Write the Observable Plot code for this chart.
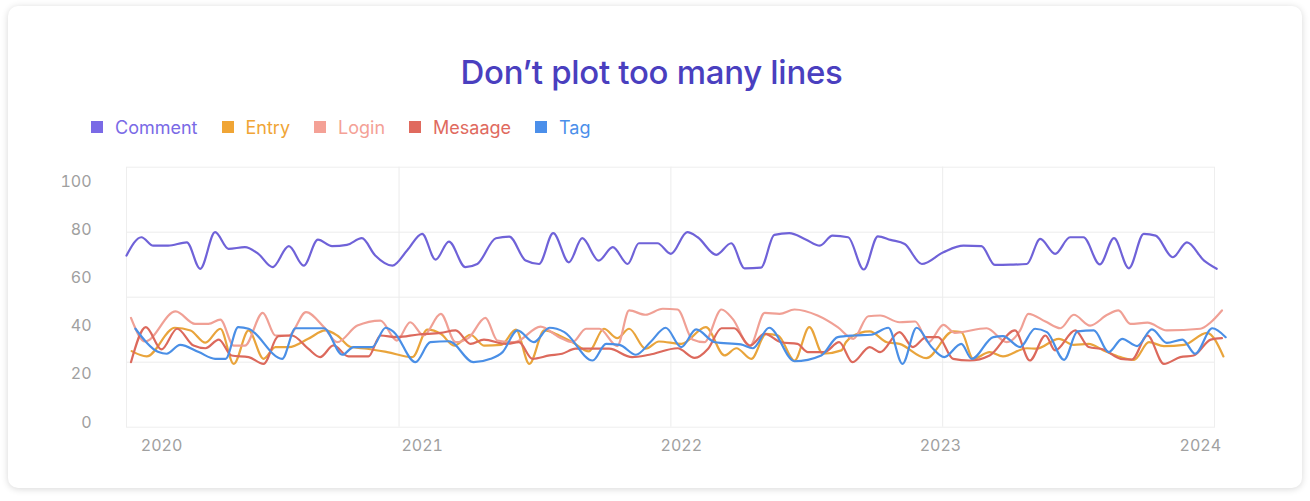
<!DOCTYPE html>
<html>
<head>
<meta charset="utf-8">
<script src="https://cdn.jsdelivr.net/npm/d3@7"></script>
<script src="https://cdn.jsdelivr.net/npm/@observablehq/plot@0.6"></script>
<style>
  html, body { margin: 0; padding: 0; background: #ffffff; }
  body { width: 1310px; height: 501px; position: relative; overflow: hidden; font-family: Inter, "Noto Sans", sans-serif; }
  #card { position: absolute; left: 8px; top: 6px; width: 1294px; height: 482px; background: #fff;
          border-radius: 10px; box-shadow: 0 1px 7px rgba(0,0,0,0.16); }
  #title { position: absolute; left: 0; top: 50px; width: 1303px; text-align: center; font-size: 33px;
           font-weight: 500; color: #4a3fbf; letter-spacing: -0.3px; line-height: 44px; }
  #legend { position: absolute; left: 91px; top: 115px; display: flex; align-items: center; height: 24px; }
  .item { display: flex; align-items: center; margin-right: 24px; font-size: 18px; }
  .sw { width: 12px; height: 12px; margin-right: 12px; }
  #chart { position: absolute; left: 0; top: 150px; }
</style>
</head>
<body>
<div id="card"></div>
<div id="title">Don’t plot too many lines</div>
<div id="legend"></div>
<div id="chart"></div>
<script>
// ---- data (days since 2020-01-01, values) ----
const seriesNames = ["Comment", "Entry", "Login", "Mesaage", "Tag"];
const lineColors = ["#6f62d8", "#e9a43b", "#f0a095", "#dc695c", "#4a8fe6"];
const legendColors = ["#7a6ae6", "#f0a535", "#f4a196", "#e06a5e", "#4b8fea"];

const commentDays = [0,20,36,56,81,99,119,137,159,177,196,218,238,257,276,296,316,334,357,377,397,415,433,455,471,496,514,536,554,573,594,612,634,653,673,688,713,731,753,767,792,812,830,852,870,890,912,931,948,969,990,1009,1026,1045,1068,1097,1124,1148,1166,1187,1209,1227,1247,1267,1285,1307,1326,1346,1366,1382,1405,1424,1447,1464];
const commentValues = [69.3,76.9,73.4,73.4,74.8,63.8,79.0,72.1,72.8,70.0,64.5,73.2,65.1,75.9,73.2,73.7,76.5,69.3,65.1,71.5,78.3,67.6,75.1,64.5,65.8,76.5,77.2,67.2,65.8,78.6,66.5,76.5,67.2,72.8,65.8,74.4,74.4,70.0,79.0,76.9,69.6,74.4,64.0,64.3,77.9,78.6,76.0,73.4,77.6,76.9,63.5,77.3,75.8,74.1,65.8,70.7,73.4,73.2,65.4,65.5,65.8,76.2,70.0,76.9,76.9,65.6,76.5,64.0,78.3,77.6,68.6,74.8,67.2,63.8];

const entryDays = [7,27,65,86,106,126,144,164,184,200,218,244,267,283,301,323,350,384,404,422,440,462,480,503,523,541,561,581,599,621,641,659,675,697,715,745,778,803,819,839,859,875,897,917,935,960,966,985,998,1021,1038,1074,1110,1121,1137,1159,1177,1209,1222,1252,1272,1292,1312,1335,1353,1373,1393,1420,1451,1473];
const entryValues = [29.6,27.4,39.3,38.2,33.1,38.9,24.3,38.2,26.4,31.3,31.3,34.7,38.2,36.1,31.3,30.6,29.2,27.1,38.5,36.8,31.9,36.4,31.9,32.2,38.5,24.3,38.2,36.1,33.3,29.5,38.9,35.0,38.9,30.6,33.6,32.6,39.6,27.8,30.8,26.4,36.8,36.1,25.7,39.6,28.5,29.9,33.3,37.2,37.8,33.3,32.6,26.7,37.8,37.5,26.4,29.2,27.4,30.8,30.6,34.7,32.2,32.6,29.9,27.1,26.0,33.3,31.7,32.2,37.2,27.4];

const loginDays = [6,25,66,92,110,126,144,159,183,200,218,241,265,283,310,341,363,381,399,422,442,459,482,498,521,556,581,599,617,635,659,675,697,720,740,760,776,799,814,837,857,877,897,928,955,976,996,1012,1038,1059,1077,1097,1112,1155,1182,1200,1211,1234,1254,1272,1294,1317,1332,1348,1371,1397,1442,1456,1471];
const loginValues = [43.4,33.6,46.1,40.9,40.9,42.7,31.9,31.9,45.5,36.1,36.1,45.8,39.6,33.3,40.2,42.3,34.0,41.6,36.1,45.1,33.3,35.0,43.4,34.0,33.3,39.8,35.4,33.3,38.9,38.9,31.7,46.5,44.7,47.2,46.9,34.4,33.3,46.9,43.0,31.7,45.5,45.1,46.9,44.4,39.6,34.7,44.1,44.4,41.6,41.9,33.3,40.5,37.2,39.1,33.3,38.2,45.1,41.9,39.1,44.7,40.2,44.7,46.5,40.9,41.4,38.2,38.9,41.6,46.5];

const messageDays = [6,26,47,68,90,106,124,141,164,184,204,222,244,260,278,298,325,341,363,392,422,442,462,480,509,527,545,568,585,603,626,648,679,702,740,763,781,799,816,837,857,879,901,915,937,957,975,998,1012,1038,1056,1074,1090,1110,1132,1159,1193,1213,1234,1247,1274,1292,1312,1335,1350,1371,1393,1415,1433,1456,1471];
const messageValues = [25.0,39.6,30.3,38.9,31.9,30.8,34.4,27.8,27.1,24.3,35.8,36.1,30.6,27.1,32.0,27.4,27.4,36.1,35.4,36.5,37.2,38.2,32.6,34.4,32.6,33.3,26.4,27.8,28.5,30.6,30.6,30.6,27.1,28.1,30.8,26.8,30.6,39.1,39.1,31.9,36.8,33.3,32.6,29.2,29.2,33.3,25.0,31.3,29.2,37.5,31.3,35.4,35.4,26.4,25.7,27.8,38.2,25.7,36.1,29.9,38.2,31.3,30.3,26.4,26.1,36.1,24.3,27.1,27.8,34.4,35.0];

const tagDays = [12,43,54,72,97,119,133,150,164,209,227,244,265,290,305,330,348,359,388,408,433,466,489,505,525,547,568,588,626,644,662,684,704,724,745,765,790,825,841,863,897,933,955,978,1000,1023,1042,1061,1081,1098,1121,1135,1164,1177,1200,1220,1236,1259,1277,1299,1319,1337,1357,1377,1397,1418,1435,1458,1476];
const tagValues = [38.9,29.2,28.5,32.2,29.2,26.4,26.4,39.6,38.9,26.4,39.1,39.1,39.1,28.1,31.3,31.3,39.3,37.5,25.0,33.3,33.7,25.0,26.4,29.2,38.2,33.3,39.3,37.5,25.7,32.6,32.2,28.1,33.5,39.3,31.3,38.6,33.3,32.4,30.8,39.3,25.4,27.8,35.4,36.1,36.4,39.3,24.3,39.3,31.3,27.1,32.6,26.4,35.4,35.8,31.3,38.9,37.5,26.0,37.8,38.2,29.2,34.7,31.7,38.6,33.0,34.4,28.5,39.1,35.4];

// axis / grid definitions
const yTicks = [0, 20, 40, 60, 80, 100];
const yGrid = [25, 52, 79];
const xGridDates = ["2021-01-01", "2022-01-01", "2023-01-01"];
const xTickDates = ["2020-02-17", "2021-02-01", "2022-01-15", "2022-12-29", "2023-12-13"];
const xTickLabels = ["2020", "2021", "2022", "2023", "2024"];

// ---- build ----
const base = new Date(Date.UTC(2020, 0, 1));
const dayArrays = [commentDays, entryDays, loginDays, messageDays, tagDays];
const valueArrays = [commentValues, entryValues, loginValues, messageValues, tagValues];
const rows = [];
seriesNames.forEach((name, s) => {
  dayArrays[s].forEach((d, i) => rows.push({ series: name, date: d3.utcDay.offset(base, d), value: valueArrays[s][i] }));
});

const legend = document.getElementById("legend");
seriesNames.forEach((name, i) => {
  const it = document.createElement("div");
  it.className = "item";
  it.style.color = legendColors[i];
  it.innerHTML = `<span class="sw" style="background:${legendColors[i]}"></span><span>${name}</span>`;
  legend.appendChild(it);
});

const tickDates = xTickDates.map(s => new Date(s + "T00:00:00Z"));
const labelOf = new Map(tickDates.map((d, i) => [+d, xTickLabels[i]]));

const chart = Plot.plot({
  width: 1310,
  height: 320,
  marginLeft: 126,
  marginRight: 96,
  marginTop: 16.7,
  marginBottom: 43.3,
  style: { fontFamily: "Inter, 'Noto Sans', sans-serif", background: "transparent" },
  x: { type: "utc", domain: [base, new Date(Date.UTC(2024, 0, 1))] },
  y: { domain: [-2, 106] },
  color: { domain: seriesNames, range: lineColors },
  marks: [
    Plot.ruleY(yGrid, { stroke: "#ececec", strokeWidth: 1 }),
    Plot.ruleX(xGridDates.map(s => new Date(s + "T00:00:00Z")), { stroke: "#ececec", strokeWidth: 1 }),
    Plot.frame({ stroke: "#eeeeee" }),
    Plot.axisY(yTicks, { tickSize: 0, tickPadding: 35, fontSize: 16, color: "#a0a0a0", label: null }),
    Plot.axisX(tickDates, { tickSize: 0, tickPadding: 12, fontSize: 16, color: "#a0a0a0", label: null,
                            tickFormat: d => labelOf.get(+d) }),
    Plot.line(rows, { x: "date", y: "value", z: "series", stroke: "series", strokeWidth: 2.2,
                      curve: "monotone-x" })
  ]
});
document.getElementById("chart").appendChild(chart);
</script>
</body>
</html>
